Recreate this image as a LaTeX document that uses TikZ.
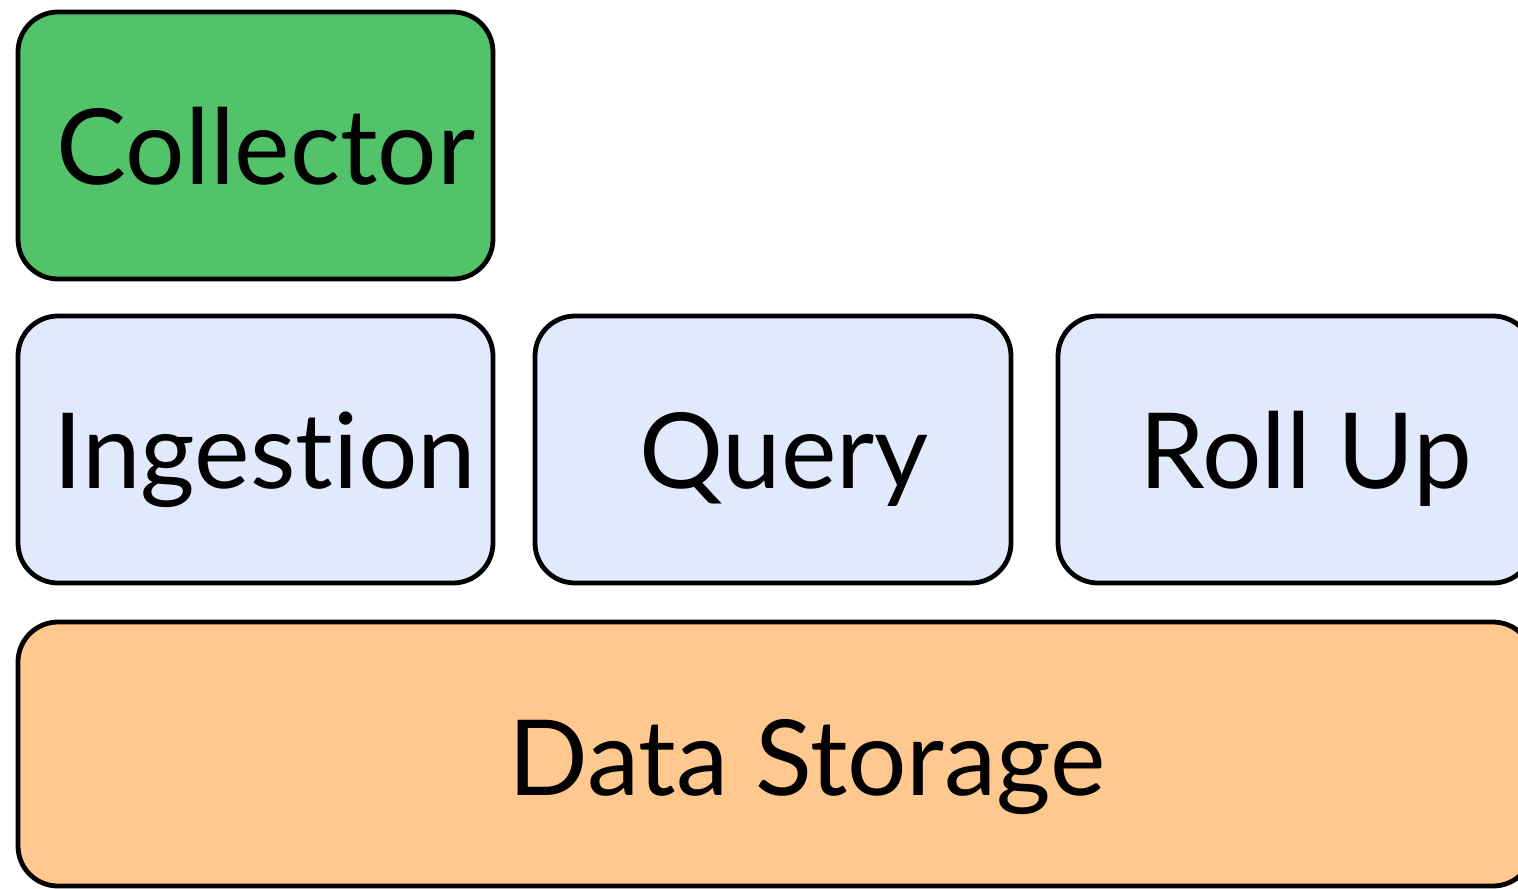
\documentclass[tikz,border=0pt]{standalone}
\usepackage{fontspec}
\setmainfont{Lato}[Ligatures=NoCommon]
\definecolor{collectorgreen}{RGB}{82,195,106}
\definecolor{serviceblue}{RGB}{225,234,252}
\definecolor{storageorange}{RGB}{254,200,143}
\begin{document}
\begin{tikzpicture}[x=0.5pt,y=-0.5pt,
  block/.style={draw=black, line width=2.4pt, rounded corners=20pt},
  label/.style={anchor=base, inner sep=0pt, font=\fontsize{52.5}{60}\selectfont}]
\useasboundingbox (0,0) rectangle (1518,888);
\clip (0,0) rectangle (1518,888);
% boxes
\path[block, fill=collectorgreen] (18,12) rectangle (493,279);
\path[block, fill=serviceblue] (18,316) rectangle (493,583);
\path[block, fill=serviceblue] (535,316) rectangle (1011,583);
\path[block, fill=serviceblue] (1058,316) rectangle (1533,583);
\path[block, fill=storageorange] (18,622) rectangle (1533,886);
% labels
\node[label] (collector) at (266,184) {Collector};
\node[label] (ingestion) at (265,488) {Ingestion};
\node[label] (query) at (784,488) {Query};
\node[label] (rollup) at (1306,488) {Roll Up};
\node[label] (storage) at (807,795) {Data Storage};
\end{tikzpicture}
\end{document}
